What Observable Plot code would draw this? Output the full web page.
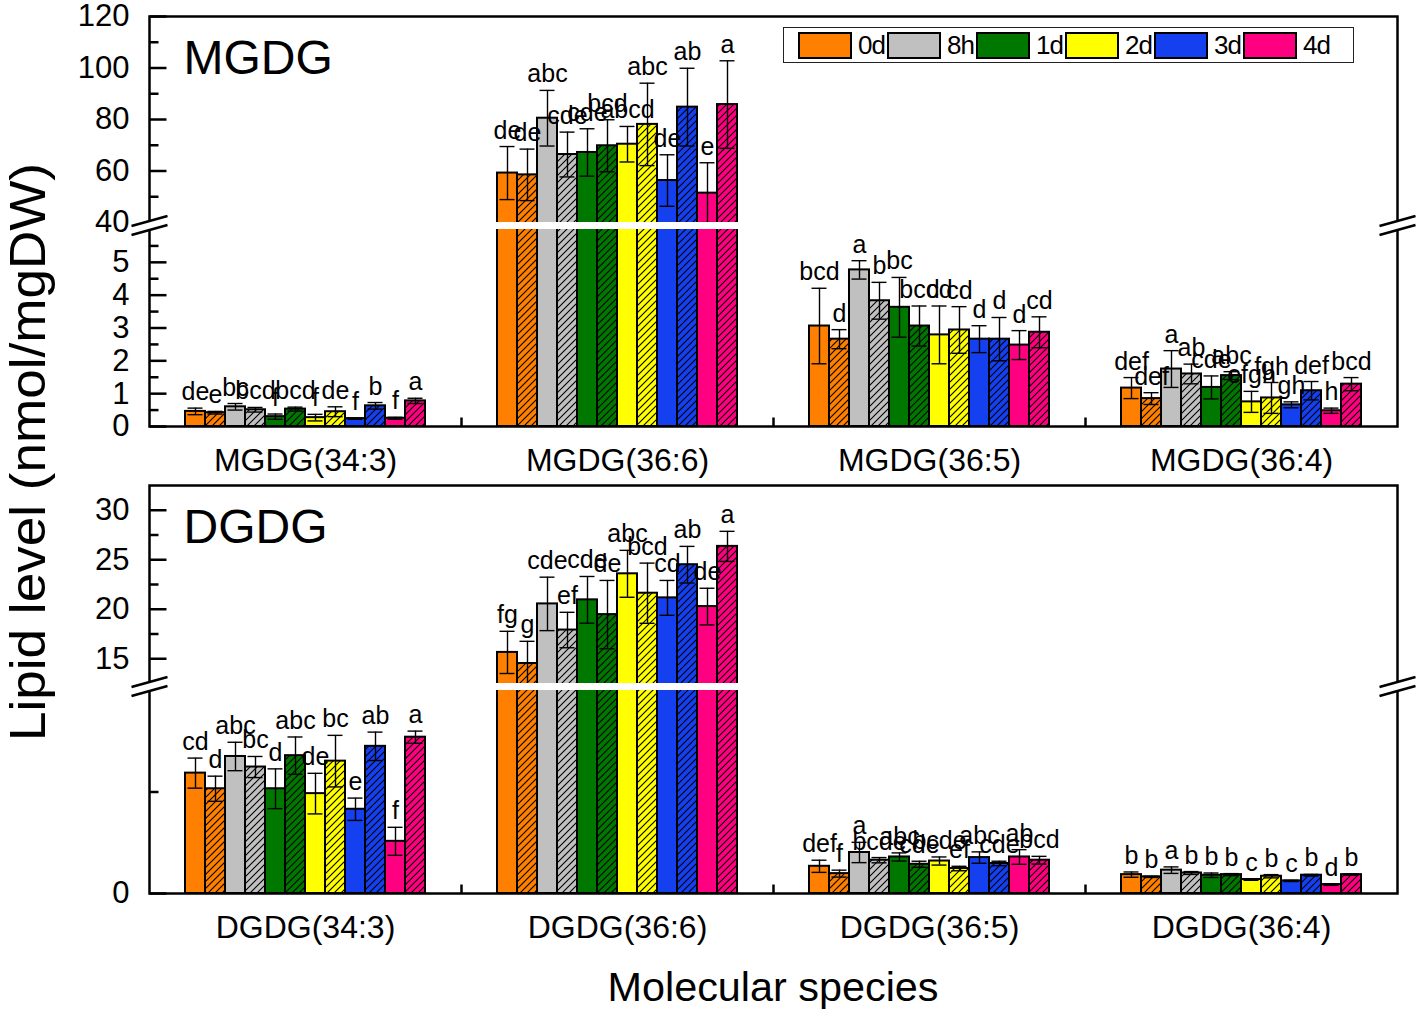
<!DOCTYPE html>
<html><head><meta charset="utf-8">
<script src="https://cdn.jsdelivr.net/npm/d3@7"></script>
<script src="https://cdn.jsdelivr.net/npm/@observablehq/plot@0.6"></script>
<style>
body{margin:0;background:#fff;}
#fig{position:relative;width:1418px;height:1012px;font-family:"Liberation Sans",Arial,sans-serif;overflow:hidden;background:#fff;}
.panel{position:absolute;left:0;}
#legend{position:absolute;left:783px;top:27px;width:571px;height:36px;border:1.5px solid #222;box-sizing:border-box;display:flex;align-items:center;padding-left:14px;background:#fff;}
.item{display:flex;align-items:center;width:89px;flex:none;}
.sw{width:54px;height:27px;border:2px solid #000;box-sizing:border-box;}
.lab{font-size:26px;margin-left:6px;letter-spacing:-1px;}
</style></head><body>
<svg width="0" height="0" style="position:absolute">
  <defs>
    <pattern id="hatch" patternUnits="userSpaceOnUse" width="7" height="7">
      <path d="M-1,1 L1,-1 M0,7 L7,0 M6,8 L8,6" stroke="#000" stroke-width="1.1"/>
    </pattern>
  </defs>
</svg>
<div id="fig">
  <div id="top" class="panel" style="top:0"></div>
  <div id="bot" class="panel" style="top:470px"></div>
  <div id="legend"></div>
  <svg width="1418" height="1012" style="position:absolute;left:0;top:0;pointer-events:none;font-family:'Liberation Sans',Arial,sans-serif">
    <text id="ytitle" transform="translate(45,452) rotate(-90)" text-anchor="middle" font-size="50" textLength="578" lengthAdjust="spacingAndGlyphs"></text>
    <text id="xtitle" x="773" y="1001" text-anchor="middle" font-size="40" textLength="331" lengthAdjust="spacingAndGlyphs"></text>
  </svg>
</div>
<script>
// ---------- data ----------
const timePoints = ["0d", "8h", "1d", "2d", "3d", "4d"];
const timeColors = ["#FF8000", "#C0C0C0", "#007800", "#FFFF00", "#1440F0", "#FF0080"];
const variants = ["solid", "hatched"];

const yTitle = "Lipid level (nmol/mgDW)";
const xTitle = "Molecular species";

const mgdgSpecies = ["MGDG(34:3)", "MGDG(36:6)", "MGDG(36:5)", "MGDG(36:4)"];
// order within each species: 0d solid, 0d hatched, 8h solid, 8h hatched, ... 4d hatched
const mgdgMeans = [
  [0.46, 0.42, 0.60, 0.51, 0.30, 0.53, 0.27, 0.45, 0.24, 0.63, 0.25, 0.78],
  [59.2, 58.5, 80.5, 66.4, 67.2, 69.8, 70.4, 78.1, 56.3, 84.8, 51.4, 85.8],
  [3.06, 2.66, 4.77, 3.83, 3.63, 3.06, 2.79, 2.94, 2.66, 2.66, 2.48, 2.87],
  [1.17, 0.85, 1.75, 1.60, 1.19, 1.55, 0.75, 0.87, 0.66, 1.09, 0.48, 1.29]
];
const mgdgErrors = [
  [0.10, 0.04, 0.10, 0.07, 0.08, 0.06, 0.10, 0.15, 0.02, 0.10, 0.03, 0.08],
  [10.3, 10.0, 10.8, 8.7, 9.2, 10.1, 6.9, 16.0, 10.0, 15.1, 11.8, 17.0],
  [1.15, 0.29, 0.28, 0.56, 0.91, 0.61, 0.88, 0.71, 0.41, 0.66, 0.44, 0.47],
  [0.32, 0.18, 0.56, 0.30, 0.35, 0.12, 0.32, 0.47, 0.09, 0.28, 0.08, 0.20]
];
const mgdgLetters = [
  ["de", "e", "bc", "bcd", "f", "bcd", "f", "de", "f", "b", "f", "a"],
  ["de", "de", "abc", "cde", "cde", "bcd", "abcd", "abc", "de", "ab", "e", "a"],
  ["bcd", "d", "a", "b", "bc", "bcd", "cd", "cd", "d", "d", "d", "cd"],
  ["def", "def", "a", "ab", "cde", "abc", "efgh", "fgh", "gh", "def", "h", "bcd"]
];

const dgdgSpecies = ["DGDG(34:3)", "DGDG(36:6)", "DGDG(36:5)", "DGDG(36:4)"];
const dgdgMeans = [
  [5.93, 5.16, 6.75, 6.23, 5.16, 6.79, 4.92, 6.52, 4.15, 7.25, 2.57, 7.70],
  [15.64, 14.52, 20.54, 17.90, 20.95, 19.46, 23.58, 21.62, 21.15, 24.50, 20.27, 26.35],
  [1.34, 0.98, 2.02, 1.64, 1.80, 1.44, 1.60, 1.23, 1.77, 1.48, 1.80, 1.64],
  [0.93, 0.82, 1.15, 1.01, 0.90, 0.93, 0.69, 0.85, 0.62, 0.90, 0.44, 0.93]
];
const dgdgErrors = [
  [0.74, 0.62, 0.70, 0.52, 0.98, 0.92, 1.00, 1.27, 0.55, 0.70, 0.69, 0.30],
  [2.13, 2.24, 2.70, 1.79, 2.36, 3.45, 2.37, 3.04, 1.76, 1.85, 1.85, 1.52],
  [0.30, 0.17, 0.50, 0.13, 0.20, 0.15, 0.20, 0.11, 0.28, 0.11, 0.36, 0.19],
  [0.13, 0.03, 0.16, 0.07, 0.11, 0.05, 0.04, 0.08, 0.03, 0.04, 0.04, 0.03]
];
const dgdgLetters = [
  ["cd", "d", "abc", "bc", "d", "abc", "de", "bc", "e", "ab", "f", "a"],
  ["fg", "g", "cde", "ef", "cde", "de", "abc", "bcd", "cd", "ab", "de", "a"],
  ["def", "f", "a", "bcde", "abc", "cde", "bcde", "ef", "abc", "cde", "ab", "bcd"],
  ["b", "b", "a", "b", "b", "b", "c", "b", "c", "b", "d", "b"]
];

// broken y axes: [lower min, lower max, upper min, upper max]
const mgdgYDomain = [0, 6, 40, 120];
const mgdgMajorTicks = [0, 1, 2, 3, 4, 5, 40, 60, 80, 100, 120];
const mgdgMinorTicks = [0.5, 1.5, 2.5, 3.5, 4.5, 5.5, 50, 70, 90, 110];
const dgdgYDomain = [0, 10, 12.5, 32.5];
const dgdgMajorTicks = [0, 15, 20, 25, 30];
const dgdgMinorTicks = [5, 17.5, 22.5, 27.5];

// ---------- build ----------
function buildRows(species, means, errs, letters) {
  const rows = [];
  species.forEach((sp, i) => {
    timePoints.forEach((t, j) => variants.forEach((v, k) => {
      const idx = j * 2 + k;
      rows.push({species: sp, time: t, variant: v, key: t + "|" + v,
        mean: means[i][idx], err: errs[i][idx], letter: letters[i][idx]});
    }));
  });
  return rows;
}

const tickRight = {draw(ctx, size) { const r = Math.sqrt(size / Math.PI); ctx.moveTo(0, 0); ctx.lineTo(r, 0); }};
const tickUp = {draw(ctx, size) { const r = Math.sqrt(size / Math.PI); ctx.moveTo(0, 0); ctx.lineTo(0, -r); }};
const breakFill = {draw(ctx) { ctx.moveTo(-18, 0); ctx.lineTo(18, -10); ctx.lineTo(18, -1); ctx.lineTo(-18, 9); ctx.closePath(); }};
const breakLines = {draw(ctx) { ctx.moveTo(-18, 0); ctx.lineTo(18, -10); ctx.moveTo(-18, 9); ctx.lineTo(18, -1); }};

function panel({title, species, rows, yDomain, yRange, height, majorTicks, labeledTicks, minorTicks}) {
  const keys = timePoints.flatMap(t => variants.map(v => t + "|" + v));
  const first = species[0], last = species[species.length - 1];
  const gap = [{lo: yDomain[1], hi: yDomain[2], mid: (yDomain[1] + yDomain[2]) / 2}];
  const fxFirst = (arr) => arr.map(v => ({fx: first, v}));
  return Plot.plot({
    width: 1418, height,
    marginLeft: 148, marginRight: 21,
    marginTop: yRange[yRange.length - 1], marginBottom: height - yRange[0],
    style: {fontFamily: "Liberation Sans, Arial, sans-serif", background: "transparent", overflow: "visible", color: "black"},
    fx: {domain: species, padding: 0, label: null, axis: null},
    x: {domain: keys, paddingInner: 0, paddingOuter: 1.5, axis: null},
    y: {type: "linear", domain: yDomain, range: yRange, axis: null},
    color: {domain: timePoints, range: timeColors},
    marks: [
      Plot.barY(rows, {fx: "species", x: "key", y: "mean", fill: "time"}),
      Plot.barY(rows.filter(d => d.variant === "hatched"), {fx: "species", x: "key", y: "mean", fill: "url(#hatch)"}),
      Plot.barY(rows, {fx: "species", x: "key", y: "mean", fill: "none", stroke: "black", strokeWidth: 2}),
      Plot.ruleX(rows, {fx: "species", x: "key", y1: d => d.mean - d.err, y2: d => d.mean + d.err, stroke: "black", strokeWidth: 1.4}),
      Plot.tickY(rows, {fx: "species", x: "key", y: d => d.mean + d.err, insetLeft: 2.5, insetRight: 2.5, stroke: "black", strokeWidth: 1.4}),
      Plot.tickY(rows, {fx: "species", x: "key", y: d => d.mean - d.err, insetLeft: 2.5, insetRight: 2.5, stroke: "black", strokeWidth: 1.4}),
      Plot.rect(gap, {y1: "lo", y2: "hi", fill: "white"}),
      Plot.frame({facet: "super", stroke: "black", strokeWidth: 2.5}),
      Plot.dot(fxFirst(majorTicks), {fx: "fx", y: "v", frameAnchor: "left", symbol: tickRight, r: 17, fill: "none", stroke: "black", strokeWidth: 2.5}),
      Plot.dot(fxFirst(minorTicks), {fx: "fx", y: "v", frameAnchor: "left", symbol: tickRight, r: 9, fill: "none", stroke: "black", strokeWidth: 2.5}),
      Plot.dot(species.slice(1).map(s => ({fx: s})), {fx: "fx", frameAnchor: "bottom-left", symbol: tickUp, r: 9, fill: "none", stroke: "black", strokeWidth: 2.5}),
      Plot.dot(gap.map(g => ({...g, fx: first})), {fx: "fx", y: "mid", frameAnchor: "left", symbol: breakFill, fill: "white", stroke: "none"}),
      Plot.dot(gap.map(g => ({...g, fx: first})), {fx: "fx", y: "mid", frameAnchor: "left", symbol: breakLines, fill: "none", stroke: "black", strokeWidth: 2.5}),
      Plot.dot(gap.map(g => ({...g, fx: last})), {fx: "fx", y: "mid", frameAnchor: "right", symbol: breakFill, fill: "white", stroke: "none"}),
      Plot.dot(gap.map(g => ({...g, fx: last})), {fx: "fx", y: "mid", frameAnchor: "right", symbol: breakLines, fill: "none", stroke: "black", strokeWidth: 2.5}),
      Plot.axisY({ticks: labeledTicks, tickSize: 0, tickPadding: 20, fontSize: 31, label: null, anchor: "left"}),
      Plot.axisFx({anchor: "bottom", tickSize: 0, tickPadding: 22, fontSize: 32, label: null}),
      Plot.text(rows, {fx: "species", x: "key", y: d => d.mean + d.err, text: "letter", dy: -8, lineAnchor: "bottom", fontSize: 25}),
      Plot.text([{fx: first, t: title}], {fx: "fx", text: "t", frameAnchor: "top-left", dx: 34, dy: 23, fontSize: 48, textAnchor: "start", lineAnchor: "top"})
    ]
  });
}

document.getElementById("top").appendChild(panel({
  title: "MGDG", species: mgdgSpecies,
  rows: buildRows(mgdgSpecies, mgdgMeans, mgdgErrors, mgdgLetters),
  yDomain: mgdgYDomain, yRange: [426, 229, 222, 16], height: 470,
  majorTicks: mgdgMajorTicks, labeledTicks: mgdgMajorTicks, minorTicks: mgdgMinorTicks
}));
document.getElementById("bot").appendChild(panel({
  title: "DGDG", species: dgdgSpecies,
  rows: buildRows(dgdgSpecies, dgdgMeans, dgdgErrors, dgdgLetters),
  yDomain: dgdgYDomain, yRange: [423, 220, 213, 15], height: 483,
  majorTicks: dgdgMajorTicks, labeledTicks: dgdgMajorTicks, minorTicks: dgdgMinorTicks
}));

// legend
const legend = document.getElementById("legend");
timePoints.forEach((t, i) => {
  const item = document.createElement("div");
  item.className = "item";
  const sw = document.createElement("div");
  sw.className = "sw";
  sw.style.background = timeColors[i];
  const lab = document.createElement("span");
  lab.className = "lab";
  lab.textContent = t;
  item.appendChild(sw); item.appendChild(lab);
  legend.appendChild(item);
});
document.getElementById("ytitle").textContent = yTitle;
document.getElementById("xtitle").textContent = xTitle;
</script>
</body></html>
